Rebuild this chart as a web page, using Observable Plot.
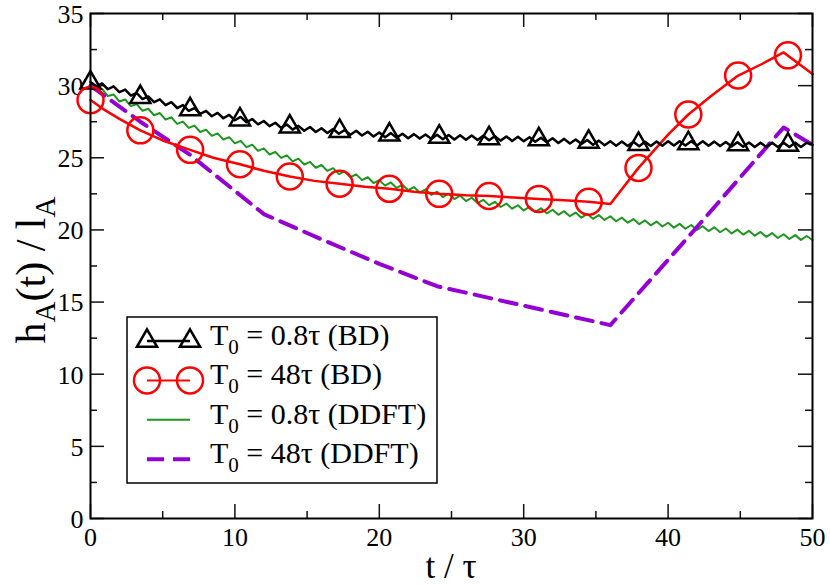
<!DOCTYPE html>
<html><head><meta charset="utf-8">
<script src="https://cdn.jsdelivr.net/npm/d3@7"></script>
<script src="https://cdn.jsdelivr.net/npm/@observablehq/plot@0.6"></script>
<style>
body{margin:0;background:#fff;}
#chart{width:830px;height:585px;}
#chart svg, #chart svg text, #chart svg tspan { font-family: "Liberation Serif", "Times New Roman", Times, "Nimbus Roman", FreeSerif, Tinos, "Noto Serif", "DejaVu Serif", serif !important; }
</style></head><body><div id="chart"></div>
<script>
// time grid of the oscillating series (step read from the saw teeth, period 0.8)
const tSaw = [
0,0.4,0.8,1.2,1.6,2,2.4,2.8,3.2,3.6,4,4.4,4.8,5.2,5.6,6,6.4,6.8,7.2,7.6,8,8.4,8.8,9.2,9.6,10,
10.4,10.8,11.2,11.6,12,12.4,12.8,13.2,13.6,14,14.4,14.8,15.2,15.6,16,16.4,16.8,17.2,17.6,18,18.4,18.8,19.2,19.6,20,
20.4,20.8,21.2,21.6,22,22.4,22.8,23.2,23.6,24,24.4,24.8,25.2,25.6,26,26.4,26.8,27.2,27.6,28,28.4,28.8,29.2,29.6,30,
30.4,30.8,31.2,31.6,32,32.4,32.8,33.2,33.6,34,34.4,34.8,35.2,35.6,36,36.4,36.8,37.2,37.6,38,38.4,38.8,39.2,39.6,40,
40.4,40.8,41.2,41.6,42,42.4,42.8,43.2,43.6,44,44.4,44.8,45.2,45.6,46,46.4,46.8,47.2,47.6,48,48.4,48.8,49.2,49.6,50
];
// T0 = 0.8 tau (DDFT), green
const greenDDFT = [
30.00,29.66,29.77,29.28,29.39,28.90,29.04,28.58,28.72,28.26,28.40,27.95,28.10,27.65,27.80,27.35,27.51,27.07,27.23,26.79,26.95,26.52,26.69,26.26,26.43,26.00,
26.17,25.74,25.91,25.48,25.65,25.23,25.41,24.99,25.17,24.75,24.94,24.53,24.72,24.31,24.50,24.09,24.28,23.87,24.06,23.65,23.85,23.45,23.65,23.25,23.45,
23.07,23.29,22.91,23.13,22.75,22.97,22.59,22.81,22.43,22.65,22.28,22.51,22.14,22.37,22.00,22.23,21.86,22.09,21.72,21.95,21.59,21.83,21.47,21.71,21.35,
21.60,21.25,21.50,21.15,21.40,21.05,21.30,20.95,21.20,20.85,21.11,20.77,21.03,20.69,20.95,20.60,20.85,20.50,20.75,20.40,20.66,20.32,20.58,20.24,20.50,
20.16,20.42,20.08,20.34,20.00,20.26,19.92,20.18,19.84,20.10,19.76,20.02,19.68,19.94,19.60,19.86,19.52,19.78,19.44,19.70,19.37,19.64,19.31,19.58,19.30
];
// T0 = 0.8 tau (BD), black
const blackBD = [
30.25,29.95,30.15,29.75,29.95,29.55,29.73,29.31,29.49,29.07,29.25,28.85,29.05,28.65,28.85,28.45,28.65,28.25,28.45,28.05,28.25,27.88,28.11,27.74,27.97,27.60,
27.83,27.46,27.69,27.32,27.55,27.19,27.43,27.07,27.31,26.95,27.21,26.87,27.13,26.79,27.05,26.72,26.99,26.66,26.93,26.60,26.87,26.54,26.81,26.48,26.75,
26.43,26.71,26.39,26.67,26.35,26.64,26.33,26.62,26.31,26.60,26.29,26.58,26.27,26.56,26.25,26.54,26.23,26.52,26.21,26.50,26.19,26.48,26.17,26.46,26.15,
26.43,26.11,26.39,26.07,26.35,26.03,26.31,25.99,26.27,25.95,26.23,25.91,26.19,25.87,26.15,25.84,26.13,25.82,26.11,25.80,26.11,25.82,26.13,25.84,26.15,
25.85,26.15,25.85,26.15,25.85,26.14,25.83,26.12,25.81,26.10,25.79,26.08,25.77,26.06,25.75,26.05,25.75,26.05,25.75,26.05,25.75,26.05,25.75,26.05,25.90
];
// symbol positions (every ~3.45 tau)
const tMarks = [0,3.45,6.9,10.35,13.8,17.25,20.7,24.15,27.6,31.05,34.5,37.95,41.4,44.85,48.3];
const blackMarks = [30.2,29.2,28.35,27.65,27.15,26.85,26.6,26.45,26.35,26.27,26.1,25.95,26.0,25.93,25.9];
const redMarks = [29.0,26.9,25.55,24.55,23.7,23.2,22.85,22.5,22.35,22.15,21.95,24.3,28.0,30.7,32.1];
// T0 = 48 tau (BD), red
const redT  = [0,1,2,3.45,5,6.9,8.5,10.35,12,13.8,15.5,17.25,19,20.7,22.4,24.15,26,27.6,29.3,31.05,32.8,34.5,36,37.95,40,41.4,43,44.85,46.5,48,50];
const redBD = [29.0,28.3,27.7,26.9,26.2,25.55,25.0,24.55,24.1,23.7,23.4,23.2,23.0,22.85,22.65,22.5,22.4,22.35,22.25,22.15,22.05,21.95,21.8,24.3,26.6,28.0,29.3,30.7,31.5,32.3,30.8];
// T0 = 48 tau (DDFT), purple dashed
const purpleT = [0,3.45,6.9,10,12,16,20,24,30,36,42,48,50];
const purpleDDFT = [30.0,27.5,25.2,22.7,21.1,19.35,17.65,16.1,14.75,13.4,20.2,27.1,25.9];

const xMajor = [0,10,20,30,40,50];
const xMinor = [5,15,25,35,45];
const yMajor = [0,5,10,15,20,25,30,35];
const yMinor = [2.5,7.5,12.5,17.5,22.5,27.5,32.5];
const legendLabels = ["0.8τ (BD)","48τ (BD)","0.8τ (DDFT)","48τ (DDFT)"];

const C = {black:"#000000", red:"#ff0000", green:"#1c961c", purple:"#9400d3"};
const W=830,H=585,mL=90,mR=18,mT=13,mB=67;
const iw=W-mL-mR, ih=H-mT-mB;
const major=14, minor=7;
const tk = {stroke:"#111", strokeWidth:1.5};
const triR = 7.5, circR = 13;
const font = "Liberation Serif, Times New Roman, Times, Nimbus Roman, FreeSerif, Tinos, Noto Serif, DejaVu Serif, serif";

const zipT = (ts, vs) => ts.map((t,i)=>({t, v:vs[i]}));

const plot = Plot.plot({
  width:W, height:H, marginLeft:mL, marginRight:mR, marginTop:mT, marginBottom:mB,
  style:{fontFamily:font, fontSize:"26px", background:"white", overflow:"visible", color:"black"},
  x:{domain:[0,50]},
  y:{domain:[0,35]},
  marks:[
    Plot.tickX(xMajor,{x:d=>d, insetTop:ih-major, ...tk}),
    Plot.tickX(xMajor,{x:d=>d, insetBottom:ih-major, ...tk}),
    Plot.tickX(xMinor,{x:d=>d, insetTop:ih-minor, ...tk}),
    Plot.tickX(xMinor,{x:d=>d, insetBottom:ih-minor, ...tk}),
    Plot.tickY(yMajor,{y:d=>d, insetRight:iw-major, ...tk}),
    Plot.tickY(yMajor,{y:d=>d, insetLeft:iw-major, ...tk}),
    Plot.tickY(yMinor,{y:d=>d, insetRight:iw-minor, ...tk}),
    Plot.tickY(yMinor,{y:d=>d, insetLeft:iw-minor, ...tk}),
    Plot.axisX({ticks:xMajor, tickSize:0, tickPadding:9, fontSize:26, label:null}),
    Plot.axisY({ticks:yMajor, tickSize:0, tickPadding:7, fontSize:26, dy:1, label:null}),
    Plot.line(zipT(tSaw, greenDDFT), {x:"t", y:"v", stroke:C.green, strokeWidth:2}),
    Plot.line(zipT(purpleT, purpleDDFT), {x:"t", y:"v", stroke:C.purple, strokeWidth:4, strokeDasharray:"17,9"}),
    Plot.line(zipT(redT, redBD), {x:"t", y:"v", stroke:C.red, strokeWidth:2.5}),
    Plot.line(zipT(tSaw, blackBD), {x:"t", y:"v", stroke:C.black, strokeWidth:2.5}),
    Plot.dot(zipT(tMarks, blackMarks), {x:"t", y:"v", symbol:"triangle", r:triR, stroke:C.black, strokeWidth:2.5, fill:"none"}),
    Plot.dot(zipT(tMarks, redMarks), {x:"t", y:"v", r:circR, stroke:C.red, strokeWidth:2.5, fill:"none"}),
    Plot.frame({stroke:"black", strokeWidth:2})
  ]
});
document.getElementById("chart").appendChild(plot);

const svg = d3.select(plot);
// axis titles
svg.append("text").attr("x", mL+iw/2).attr("y", 578).attr("text-anchor","middle")
  .attr("font-size", 35).attr("fill","black").text("t / τ");
const yl = svg.append("text").attr("transform","translate(45,270) rotate(-90)").attr("text-anchor","middle")
  .attr("font-size", 42).attr("fill","black");
yl.append("tspan").text("h");
yl.append("tspan").attr("dy",10).attr("font-size",29).text("A");
yl.append("tspan").attr("dy",-10).text("(t) / l");
yl.append("tspan").attr("dy",10).attr("font-size",29).text("A");

// legend
const lg = svg.append("g");
lg.append("rect").attr("x",127).attr("y",317).attr("width",310).attr("height",166)
  .attr("fill","white").attr("stroke","black").attr("stroke-width",1.5);
const rowY0 = 341, rowStep = 39.4, sx0 = 147, sx1 = 190;
legendLabels.forEach((lab, i) => {
  const cy = rowY0 + i*rowStep;
  if (i === 0) {
    lg.append("line").attr("x1",sx0).attr("x2",sx1).attr("y1",cy).attr("y2",cy).attr("stroke",C.black).attr("stroke-width",2.5);
    [sx0,sx1].forEach(x => lg.append("path").attr("d", d3.symbol(d3.symbolTriangle, Math.PI*triR*triR)())
      .attr("transform",`translate(${x},${cy})`).attr("fill","none").attr("stroke",C.black).attr("stroke-width",2.5));
  } else if (i === 1) {
    lg.append("line").attr("x1",sx0).attr("x2",sx1).attr("y1",cy).attr("y2",cy).attr("stroke",C.red).attr("stroke-width",2);
    [sx0,sx1].forEach(x => lg.append("circle").attr("cx",x).attr("cy",cy).attr("r",circR)
      .attr("fill","none").attr("stroke",C.red).attr("stroke-width",2.5));
  } else if (i === 2) {
    lg.append("line").attr("x1",sx0).attr("x2",sx1).attr("y1",cy).attr("y2",cy).attr("stroke",C.green).attr("stroke-width",2);
  } else {
    lg.append("line").attr("x1",sx0).attr("x2",sx1).attr("y1",cy).attr("y2",cy).attr("stroke",C.purple).attr("stroke-width",4).attr("stroke-dasharray","17,9");
  }
  const t = lg.append("text").attr("x",210).attr("y",cy+4).attr("text-anchor","start")
    .attr("font-size",30).attr("fill","black");
  t.append("tspan").text("T");
  t.append("tspan").attr("dy",9).attr("font-size",21).text("0");
  t.append("tspan").attr("dy",-9).text(" = " + lab);
});
</script></body></html>
